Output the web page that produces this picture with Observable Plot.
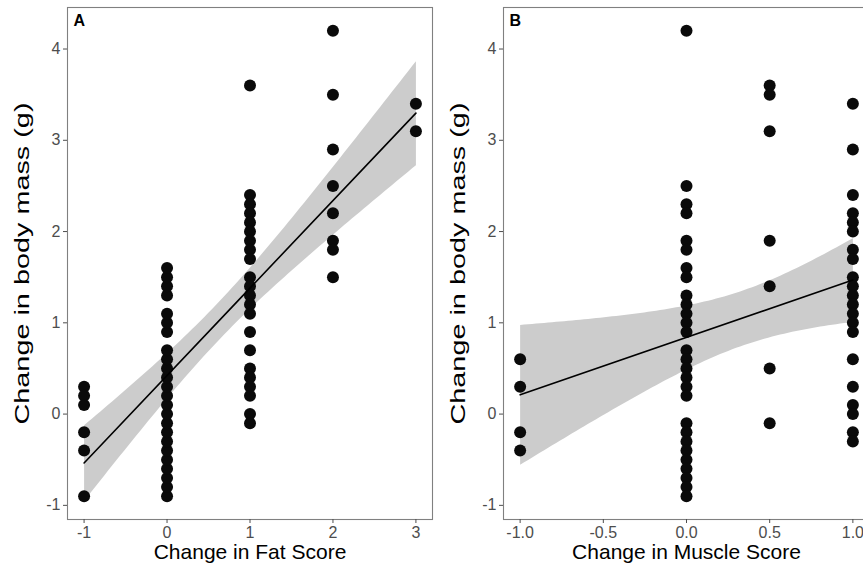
<!DOCTYPE html>
<html>
<head>
<meta charset="utf-8">
<script src="https://cdn.jsdelivr.net/npm/d3@7"></script>
<script src="https://cdn.jsdelivr.net/npm/@observablehq/plot@0.6"></script>
<style>
  html, body { margin: 0; padding: 0; background: #fff; overflow: hidden; }
  #wrap { position: relative; width: 863px; height: 573px; overflow: hidden; background: #fff; }
  #panelA { position: absolute; left: 0; top: 0; width: 440px; height: 573px; }
  #panelB { position: absolute; left: 440px; top: 0; width: 440px; height: 573px; }
  #wrap svg { max-width: none !important; width: 440px !important; height: 573px !important; }
</style>
</head>
<body>
<div id="wrap"><div id="panelA"></div><div id="panelB"></div></div>
<script>
// ---- Panel A: change in fat score vs change in body mass (g)
const fatScoreLevels = [-1, 0, 1, 2, 3];
const massFatMinus1 = [0.3, 0.2, 0.1, -0.2, -0.4, -0.9];
const massFat0 = [-0.9, -0.8, -0.7, -0.6, -0.5, -0.4, -0.3, -0.2, -0.1, 0.0, 0.1, 0.2, 0.3, 0.4, 0.5, 0.6, 0.7, 0.9, 1.0, 1.1, 1.3, 1.4, 1.5, 1.6];
const massFat1 = [3.6, 2.4, 2.3, 2.2, 2.1, 2.0, 1.9, 1.8, 1.7, 1.5, 1.4, 1.3, 1.2, 1.1, 0.9, 0.7, 0.5, 0.4, 0.3, 0.2, 0.0, -0.1];
const massFat2 = [4.2, 3.5, 2.9, 2.5, 2.2, 1.9, 1.8, 1.5];
const massFat3 = [3.4, 3.1];

// ---- Panel B: change in muscle score vs change in body mass (g)
const muscleScoreLevels = [-1, 0, 0.5, 1];
const massMuscleMinus1 = [0.6, 0.3, -0.2, -0.4];
const massMuscle0 = [4.2, 2.5, 2.3, 2.2, 1.9, 1.8, 1.6, 1.5, 1.3, 1.2, 1.1, 1.0, 0.9, 0.7, 0.6, 0.5, 0.4, 0.3, 0.2, -0.1, -0.2, -0.3, -0.4, -0.5, -0.6, -0.7, -0.8, -0.9];
const massMuscleHalf = [3.6, 3.5, 3.1, 1.9, 1.4, 0.5, -0.1];
const massMuscle1 = [3.4, 2.9, 2.4, 2.2, 2.1, 2.0, 1.8, 1.7, 1.5, 1.4, 1.3, 1.2, 1.1, 1.0, 0.9, 0.6, 0.3, 0.1, 0.0, -0.2, -0.3];

// ---- Axis ticks and labels
const yTicks = [-1, 0, 1, 2, 3, 4];
const xTicksA = [-1, 0, 1, 2, 3];
const xTicksB = [-1, -0.5, 0, 0.5, 1];
const yTitle = "Change in body mass (g)";
const xTitleA = "Change in Fat Score";
const xTitleB = "Change in Muscle Score";
const tagA = "A";
const tagB = "B";

const dataA = fatScoreLevels.flatMap((x, i) =>
  [massFatMinus1, massFat0, massFat1, massFat2, massFat3][i].map(y => ({x, y})));
const dataB = muscleScoreLevels.flatMap((x, i) =>
  [massMuscleMinus1, massMuscle0, massMuscleHalf, massMuscle1][i].map(y => ({x, y})));

const FONT = "'Liberation Sans', Arial, Helvetica, sans-serif";

function padDomain(vals) {
  const lo = d3.min(vals), hi = d3.max(vals), pad = (hi - lo) * 0.05;
  return [lo - pad, hi + pad];
}

function panel({data, xTicks, xFormat, xTitle, tag, marginLeft, marginRight}) {
  const svg = Plot.plot({
    width: 440,
    height: 573,
    marginLeft,
    marginRight,
    marginTop: 7,
    marginBottom: 54,
    style: {fontFamily: FONT, background: "white", overflow: "visible"},
    x: {domain: padDomain(data.map(d => d.x))},
    y: {domain: padDomain(data.map(d => d.y))},
    marks: [
      Plot.linearRegressionY(data, {x: "x", y: "y", ci: 0.95, stroke: "none", fill: "#cccccc", fillOpacity: 1}),
      Plot.dot(data, {x: "x", y: "y", r: 6, fill: "#0a0a0a", stroke: "none"}),
      Plot.linearRegressionY(data, {x: "x", y: "y", ci: 0, stroke: "#000", strokeWidth: 1.6}),
      Plot.frame({stroke: "#808080", strokeWidth: 1.1}),
      Plot.axisX({ticks: xTicks, tickFormat: xFormat, tickSize: 4, tickPadding: 3, fontSize: 16,
        color: "#4d4d4d", label: null}),
      Plot.axisY({ticks: yTicks, tickFormat: d => String(d), tickSize: 4, tickPadding: 3, fontSize: 16,
        color: "#4d4d4d", label: null}),
      Plot.text([xTitle], {frameAnchor: "bottom", dy: 33, fontSize: 21, fill: "#000",
        textAnchor: "middle", lineAnchor: "middle"}),
      Plot.text([yTitle], {frameAnchor: "left", dx: -45, rotate: -90, fontSize: 21, fill: "#000",
        textAnchor: "middle", lineAnchor: "middle"}),
      Plot.text([tag], {frameAnchor: "top-left", dx: 6, dy: 7, fontSize: 16, fontWeight: "bold",
        textAnchor: "start", lineAnchor: "top", fill: "#000"})
    ]
  });
  // the reference's rotated axis title is drawn stretched along its length
  d3.select(svg).selectAll("text").filter(function() { return this.textContent === yTitle; })
    .attr("textLength", 322).attr("lengthAdjust", "spacingAndGlyphs");
  return svg;
}

document.getElementById("panelA").append(panel({
  data: dataA, xTicks: xTicksA, xFormat: d => String(d), xTitle: xTitleA, tag: tagA,
  marginLeft: 67, marginRight: 8
}));
document.getElementById("panelB").append(panel({
  data: dataB, xTicks: xTicksB, xFormat: d => d.toFixed(1), xTitle: xTitleB, tag: tagB,
  marginLeft: 63, marginRight: 11
}));
</script>
</body>
</html>
